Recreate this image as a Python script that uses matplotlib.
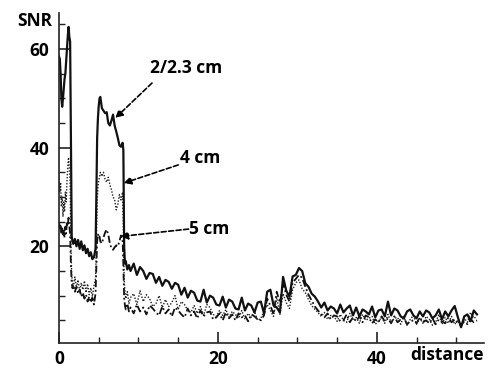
import matplotlib
matplotlib.use("Agg")
import matplotlib.pyplot as plt
from matplotlib.ticker import MultipleLocator, FixedLocator

plt.rcParams['font.family'] = ['Open Sans', 'DejaVu Sans']
plt.rcParams['font.weight'] = 'bold'

# ---- data -------------------------------------------------------------
dist_near = [0.0, 0.1, 0.2, 0.3, 0.4, 0.5, 0.6, 0.7, 0.8, 0.9,
             1.0, 1.1, 1.2, 1.3, 1.4, 1.5, 1.6, 1.7, 1.8, 2.0,
             2.2, 2.4, 2.6, 2.8, 3.0, 3.2, 3.4, 3.6, 3.8, 4.0,
             4.2, 4.4, 4.6, 4.7, 4.8, 4.9, 5.0, 5.1, 5.2, 5.4,
             5.6, 5.8, 6.0, 6.2, 6.4, 6.6, 6.8, 7.0, 7.2, 7.4,
             7.6, 7.8, 8.0, 8.1, 8.2, 8.3, 8.4, 8.6, 8.8, 9.0]
dist_far = [9.4, 9.8, 10.2, 10.6, 11.0, 11.4, 11.8, 12.2, 12.6, 13.0,
            13.4, 13.8, 14.2, 14.6, 15.0, 15.4, 15.8, 16.2, 16.6, 17.0,
            17.4, 17.8, 18.2, 18.6, 19.0, 19.4, 19.8, 20.2, 20.6, 21.0,
            21.4, 21.8, 22.2, 22.6, 23.0, 23.4, 23.8, 24.2, 24.6, 25.0,
            25.4, 25.8, 26.2, 26.6, 27.0, 27.4, 27.8, 28.2, 28.6, 29.0,
            29.4, 29.8, 30.2, 30.6, 31.0, 31.4, 31.8, 32.2, 32.6, 33.0,
            33.4, 33.8, 34.2, 34.6, 35.0, 35.4, 35.8, 36.2, 36.6, 37.0,
            37.4, 37.8, 38.2, 38.6, 39.0, 39.4, 39.8, 40.2, 40.6, 41.0,
            41.4, 41.8, 42.2, 42.6, 43.0, 43.4, 43.8, 44.2, 44.6, 45.0,
            45.4, 45.8, 46.2, 46.6, 47.0, 47.4, 47.8, 48.2, 48.6, 49.0,
            49.4, 49.8, 50.2, 50.6, 51.0, 51.4, 51.8, 52.2, 52.6]
distance = dist_near + dist_far

snr_2cm_near = [58.5, 58.0, 55.0, 50.0, 48.3, 50.0, 52.0, 54.0, 55.0, 57.5,
                60.0, 62.5, 64.5, 62.5, 61.5, 42.0, 22.0, 21.0, 20.5, 21.5,
                20.0, 21.3, 19.5, 21.0, 19.2, 20.2, 18.6, 19.5, 18.0, 18.8,
                17.4, 17.8, 19.5, 30.0, 42.0, 46.0, 48.5, 50.0, 50.3, 48.0,
                47.5, 47.0, 47.2, 45.0, 44.5, 45.5, 46.7, 44.5, 43.3, 42.0,
                40.5, 40.2, 41.0, 39.5, 20.0, 16.5, 17.0, 15.3, 16.2, 15.0]
snr_2cm_far = [16.5, 14.2, 15.8, 15.0, 13.4, 14.6, 14.4, 12.6, 13.8, 12.0,
               13.2, 12.8, 11.4, 12.6, 12.2, 10.2, 11.6, 9.6, 11.0, 10.6,
               9.0, 8.8, 11.2, 8.6, 10.0, 9.6, 8.2, 8.0, 9.8, 7.6,
               9.2, 8.8, 7.4, 7.2, 9.6, 7.0, 8.4, 8.0, 6.6, 8.6,
               8.8, 6.4, 10.8, 11.2, 8.0, 7.6, 6.6, 13.8, 11.0, 9.8,
               13.9, 14.2, 15.6, 15.0, 12.5, 11.8, 10.4, 9.8, 8.8, 7.6,
               8.6, 7.0, 7.8, 7.4, 6.4, 8.2, 6.6, 7.4, 8.0, 6.0,
               7.6, 5.8, 7.2, 6.8, 6.2, 7.8, 5.6, 7.0, 7.2, 5.8,
               8.8, 6.0, 7.4, 7.0, 5.8, 5.4, 6.8, 7.2, 6.0, 5.4,
               6.8, 5.8, 7.0, 6.6, 5.4, 6.0, 7.2, 5.2, 6.8, 5.8,
               7.0, 7.9, 5.6, 3.6, 5.8, 6.2, 4.8, 7.0, 6.2]
snr_2cm = snr_2cm_near + snr_2cm_far

snr_4cm_near = [35.0, 31.0, 33.0, 28.0, 30.0, 26.0, 29.0, 27.0, 31.0, 29.0,
                33.0, 36.0, 38.0, 36.0, 33.0, 20.0, 14.0, 13.0, 11.5, 13.8,
                11.6, 13.2, 10.8, 12.6, 11.2, 13.0, 10.6, 12.4, 10.2, 11.6,
                9.8, 12.0, 13.5, 20.0, 29.0, 32.0, 33.5, 34.0, 35.0, 34.2,
                35.0, 33.6, 33.0, 34.0, 32.5, 31.5, 30.0, 29.5, 27.4, 28.5,
                30.5, 29.4, 31.0, 24.0, 13.0, 11.0, 9.4, 10.8, 8.4, 9.6]
snr_4cm_far = [10.4, 8.2, 11.0, 8.8, 10.2, 9.4, 7.8, 8.4, 10.0, 7.6,
               9.2, 7.8, 8.6, 10.0, 7.2, 8.8, 8.2, 7.0, 6.6, 8.0,
               6.4, 7.8, 6.0, 8.2, 7.6, 6.2, 5.8, 7.0, 6.0, 7.2,
               5.6, 6.8, 6.2, 5.4, 7.0, 5.2, 6.4, 5.6, 6.8, 5.0,
               5.4, 6.8, 8.2, 7.0, 5.8, 9.6, 6.2, 10.4, 8.6, 7.4,
               11.2, 12.6, 13.2, 11.4, 10.6, 9.2, 8.0, 7.2, 6.6, 5.8,
               6.6, 5.2, 6.0, 5.8, 4.8, 6.2, 5.0, 4.6, 6.4, 5.0,
               5.6, 4.4, 6.2, 5.0, 5.4, 5.8, 4.2, 4.8, 5.6, 4.4,
               6.2, 4.6, 5.4, 5.6, 4.2, 5.8, 4.0, 5.2, 6.0, 4.2,
               5.4, 4.4, 5.8, 5.2, 4.0, 4.6, 6.2, 4.2, 5.6, 4.4,
               5.8, 4.2, 5.0, 3.8, 5.4, 4.6, 6.6, 5.4, 5.8]
snr_4cm = snr_4cm_near + snr_4cm_far

snr_5cm_near = [25.0, 23.5, 24.5, 22.5, 23.8, 22.0, 23.2, 21.8, 24.0, 22.6,
                25.0, 24.2, 25.8, 24.0, 22.5, 16.0, 12.5, 11.5, 12.2, 10.8,
                11.8, 10.4, 11.2, 9.8, 10.6, 9.4, 10.2, 8.8, 9.8, 8.6,
                9.6, 8.2, 10.5, 16.0, 21.0, 22.5, 21.8, 22.0, 21.0, 20.6,
                21.8, 22.8, 23.4, 22.4, 20.6, 19.6, 19.3, 19.8, 20.2, 20.0,
                21.0, 22.2, 21.6, 16.0, 9.5, 8.0, 7.2, 8.4, 6.8, 7.6]
snr_5cm_far = [6.4, 8.2, 6.8, 7.6, 6.2, 8.0, 7.4, 6.6, 6.0, 7.8,
               6.4, 7.2, 5.8, 7.6, 7.0, 6.2, 5.6, 7.4, 6.0, 6.8,
               5.4, 7.0, 5.8, 6.6, 6.8, 5.2, 5.6, 6.4, 5.0, 6.6,
               5.4, 6.2, 5.0, 6.4, 5.6, 6.0, 4.8, 6.2, 5.8, 5.2,
               5.0, 6.0, 9.4, 8.0, 6.2, 10.8, 8.6, 12.4, 10.2, 8.8,
               12.6, 13.4, 14.2, 13.6, 11.8, 10.2, 9.0, 7.8, 7.0, 6.2,
               5.6, 6.4, 5.2, 6.0, 5.8, 4.8, 5.0, 6.2, 4.6, 5.6,
               4.8, 5.8, 4.6, 6.0, 5.6, 4.4, 5.2, 4.6, 5.8, 4.8,
               5.4, 4.4, 5.8, 4.6, 5.2, 5.6, 4.2, 4.8, 5.0, 4.4,
               5.6, 4.6, 5.0, 4.4, 5.4, 4.2, 5.2, 4.8, 4.4, 5.6,
               4.6, 5.2, 4.4, 4.0, 4.8, 4.2, 5.2, 4.6, 5.0]
snr_5cm = snr_5cm_near + snr_5cm_far

labels = ["2/2.3 cm", "4 cm", "5 cm"]
label_pos = [(16.0, 56.2), (17.8, 37.9), (18.9, 23.5)]
arrow_tail = [(11.7, 53.1), (15.0, 36.5), (16.3, 23.5)]
arrow_head = [(7.08, 46.0), (8.13, 32.8), (7.72, 22.0)]

x_major = [0, 20, 40]
y_major = [20, 40, 60]

# ---- figure -----------------------------------------------------------
fig = plt.figure(figsize=(4.95, 3.68), dpi=100)
ax = fig.add_axes([0.1192, 0.0679, 0.8588, 0.8967])

ax.plot(distance, snr_5cm, color='#111111', lw=1.3, ls=(0, (4, 1.5, 1, 1.5)))
ax.plot(distance, snr_4cm, color='#222222', lw=1.0, ls=(0, (1, 1.2)))
ax.plot(distance, snr_2cm, color='#111111', lw=1.6, ls='-')

for lab, tp, tl, hd in zip(labels, label_pos, arrow_tail, arrow_head):
    ax.annotate('', xy=hd, xytext=tl,
                arrowprops=dict(arrowstyle='-|>', color='black', lw=1.2,
                                ls=(0, (3, 1.5)), mutation_scale=11,
                                shrinkA=0, shrinkB=0))
    ax.text(tp[0], tp[1], lab, ha='center', va='center', fontsize=12.5,
            fontweight='bold', color='black')

ax.set_xlim(0, 53.5)
ax.set_ylim(0.4, 67.3)

ax.spines['top'].set_visible(False)
ax.spines['right'].set_visible(False)
for s in ('left', 'bottom'):
    ax.spines[s].set_linewidth(1.2)
    ax.spines[s].set_color('#222222')

ax.xaxis.set_major_locator(FixedLocator(x_major))
ax.yaxis.set_major_locator(FixedLocator(y_major))
ax.xaxis.set_minor_locator(MultipleLocator(5))
ax.yaxis.set_minor_locator(MultipleLocator(5))
ax.tick_params(which='major', direction='in', length=8, width=1.2,
               labelsize=12.5, color='#222222')
ax.tick_params(which='minor', direction='in', length=4, width=1.0,
               color='#222222')
ax.tick_params(axis='x', which='major', pad=5)
ax.tick_params(axis='y', which='major', pad=7)
for t in ax.get_xticklabels() + ax.get_yticklabels():
    t.set_fontweight('bold')

fig.text(35 / 495, 1 - 21 / 368, "SNR", ha='center', va='center',
         fontsize=12.5, fontweight='bold')
fig.text(447 / 495, 1 - 355 / 368, "distance", ha='center', va='center',
         fontsize=12.5, fontweight='bold')

fig.savefig("out.png", dpi=100)
